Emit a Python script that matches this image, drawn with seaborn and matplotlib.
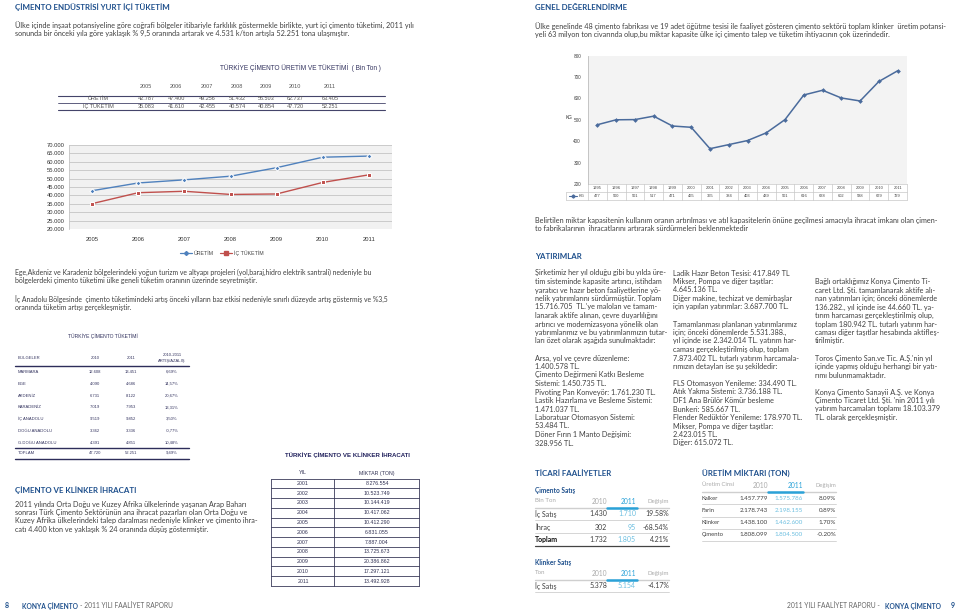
import matplotlib
matplotlib.use("Agg")
import matplotlib.pyplot as plt
import seaborn as sns
import pandas as pd
from matplotlib.lines import Line2D

# ---------------- data ----------------
years_a = [2005, 2006, 2007, 2008, 2009, 2010, 2011]
uretim = [42787, 47400, 49256, 51432, 56503, 62737, 63405]
ic_tuketim = [35083, 41610, 42455, 40574, 40854, 47720, 52251]

kg_years = list(range(1995, 2012))
kg_values = [477, 500, 501, 517, 471, 465, 365, 384, 403, 439, 501, 616, 638, 602, 588, 679, 729]

regions = ["MARMARA", "EGE", "AKDENİZ", "KARADENİZ", "İÇ ANADOLU", "DOĞU ANADOLU", "G.DOĞU ANADOLU"]
reg_2010 = [12608, 4090, 6731, 7019, 9519, 3362, 4391]
reg_2011 = [13451, 4686, 8122, 7953, 9852, 3336, 4851]
reg_change = ["6,69%", "14,57%", "20,67%", "13,31%", "3,50%", "-0,77%", "10,48%"]
reg_total = [47720, 52251, "9,49%"]

export_years = [2001, 2002, 2003, 2004, 2005, 2006, 2007, 2008, 2009, 2010, 2011]
export_tons = [8276554, 10523749, 10144419, 10417062, 10412290, 6831055, 7887004,
               13725673, 20386862, 17297121, 13492928]

cim_rows = ["İç Satış", "İhraç", "Toplam"]
cim_2010 = [1430, 302, 1732]
cim_2011 = [1710, 95, 1805]
cim_chg = ["19.58%", "-68.54%", "4.21%"]
kli_rows = ["İç Satış"]
kli_2010 = [5378]
kli_2011 = [5154]
kli_chg = ["-4.17%"]

prod_rows = ["Kalker", "Farin", "Klinker", "Çimento"]
prod_2010 = [1457779, 2178743, 1438100, 1808099]
prod_2011 = [1575786, 2198155, 1462600, 1804500]
prod_chg = ["8.09%", "0.89%", "1.70%", "-0.20%"]


def tr(n):
    return f"{n:,}".replace(",", ".")


# ---------------- style ----------------
sns.set_theme(style="white")
plt.rcParams["font.family"] = ["Lato", "DejaVu Sans"]

W, H = 960, 614
fig = plt.figure(figsize=(9.6, 6.14), dpi=100)
fig.patch.set_facecolor("white")

BLUE = "#1d4f8c"
TXT = "#404040"
NAVY = "#23235e"
TBL = "#555555"
CYAN = "#2aa2d8"
LCYAN = "#6cbfe0"
BODY = 5.2
HEAD = 5.7
RF = ["Liberation Sans", "DejaVu Sans"]


def T(x, y, s, size=BODY, color=TXT, weight="normal", ha="left", va="center", family=None, **kw):
    kws = dict(fontsize=size, color=color, fontweight=weight, ha=ha, va=va)
    if family:
        kws["family"] = family
    kws.update(kw)
    return fig.text(x / W, 1 - y / H, s, **kws)


def HL(x0, x1, y, color="#999999", lw=0.6):
    fig.add_artist(Line2D([x0 / W, x1 / W], [1 - y / H, 1 - y / H], color=color, lw=lw))


def VL(x, y0, y1, color="#999999", lw=0.6):
    fig.add_artist(Line2D([x / W, x / W], [1 - y0 / H, 1 - y1 / H], color=color, lw=lw))


def LINES(x, y0, lines, dy=8.3, **kw):
    for i, s in enumerate(lines):
        if s:
            T(x, y0 + i * dy, s, **kw)


# ---------------- left page text ----------------
T(15, 7.5, "ÇİMENTO ENDÜSTRİSİ YURT İÇİ TÜKETİM", size=HEAD, color=BLUE, weight="bold")
LINES(15, 25.5, ["Ülke içinde inşaat potansiyeline göre coğrafi bölgeler itibariyle farklılık göstermekle birlikte, yurt içi çimento tüketimi, 2011 yılı",
                 "sonunda bir önceki yıla göre yaklaşık % 9,5 oranında artarak ve 4.531 k/ton artışla 52.251 tona ulaşmıştır."], dy=8)

# production / consumption table
T(220, 68, "TÜRKİYE ÇİMENTO ÜRETİM VE TÜKETİMİ  ( Bin Ton )", size=4.7, color="#33335f", family=RF)
tx = [146, 176, 207, 237, 266, 295, 330]
for x, yv in zip(tx, years_a):
    T(x, 87, str(yv), size=4.0, color=TBL, ha="center", family=RF)
HL(58, 385, 95.5, color="#44446a", lw=0.8)
HL(58, 385, 102.5, color="#44446a", lw=0.6)
HL(58, 385, 110, color="#44446a", lw=0.8)
T(98, 99, "ÜRETİM", size=4.0, color=TBL, ha="center", family=RF)
T(98, 106.5, "İÇ TÜKETİM", size=4.0, color=TBL, ha="center", family=RF)
for x, a, b in zip(tx, uretim, ic_tuketim):
    T(x, 99, tr(a), size=4.0, color=TBL, ha="center", family=RF)
    T(x, 106.5, tr(b), size=4.0, color=TBL, ha="center", family=RF)

# left line chart
axL = fig.add_axes([69 / W, 1 - 229 / H, (392 - 69) / W, (229 - 145) / H])
dfL = pd.DataFrame({"Yıl": years_a * 2,
                    "Değer": uretim + ic_tuketim,
                    "Seri": ["ÜRETİM"] * 7 + ["İÇ TÜKETİM"] * 7})
sns.lineplot(data=dfL, x="Yıl", y="Değer", hue="Seri", style="Seri",
             palette={"ÜRETİM": "#4f81bd", "İÇ TÜKETİM": "#c0504d"},
             markers={"ÜRETİM": "D", "İÇ TÜKETİM": "s"},
             dashes=False, markersize=2.6, linewidth=1.0, ax=axL, legend=False)
axL.set_facecolor("#f1f1f1")
axL.set_xlim(2004.5, 2011.5)
axL.set_ylim(20000, 70000)
axL.set_yticks(range(20000, 70001, 5000))
axL.set_yticklabels([tr(v) for v in range(20000, 70001, 5000)], fontsize=4.2, color="#333333", family=RF)
axL.set_xticks(years_a)
axL.set_xticklabels([str(y) for y in years_a], fontsize=4.2, color="#333333", family=RF)
axL.tick_params(axis="both", length=0, pad=3)
axL.tick_params(axis="x", pad=6)
axL.grid(axis="y", color="#c4c4c4", lw=0.6)
axL.set_axisbelow(True)
for s in axL.spines.values():
    s.set_visible(False)
axL.spines["left"].set_visible(True)
axL.spines["left"].set_color("#c4c4c4")
axL.spines["left"].set_linewidth(0.6)
axL.set_xlabel("")
axL.set_ylabel("")
hL = [Line2D([], [], color="#4f81bd", marker="D", markersize=2, lw=0.9, label="ÜRETİM"),
      Line2D([], [], color="#c0504d", marker="s", markersize=2.4, lw=0.9, label="İÇ TÜKETİM")]
legL = fig.legend(handles=hL, loc="center", bbox_to_anchor=(222 / W, 1 - 253 / H), ncol=2,
                  frameon=False, handlelength=2.2, columnspacing=1.2, handletextpad=0.4,
                  prop={"family": RF, "size": 3.8})
for t in legL.get_texts():
    t.set_color("#444444")

LINES(15, 272.5, ["Ege,Akdeniz ve Karadeniz bölgelerindeki yoğun turizm ve altyapı projeleri (yol,baraj,hidro elektrik santrali) nedeniyle bu",
                  "bölgelerdeki çimento tüketimi ülke geneli tüketim oranının üzerinde seyretmiştir."], dy=8.3, size=4.95)
LINES(15, 299.5, ["İç Anadolu Bölgesinde  çimento tüketimindeki artış önceki yılların baz etkisi nedeniyle sınırlı düzeyde artış göstermiş ve %3,5",
                  "oranında tüketim artışı gerçekleşmiştir."], dy=8.3, size=4.95)

# regional table
T(103, 336, "TÜRKİYE ÇİMENTO TÜKETİMİ", size=3.6, color="#33335f", ha="center", family=RF)
T(18, 358, "BÖLGELER", size=3.0, color="#33335f", family=RF)
T(95, 358, "2010", size=3.0, color="#33335f", ha="center", family=RF)
T(131, 358, "2011", size=3.0, color="#33335f", ha="center", family=RF)
T(172, 355, "2010-2011", size=3.0, color="#33335f", ha="center", family=RF)
T(172, 361, "ARTIŞ/AZALIŞ", size=3.0, color="#33335f", ha="center", family=RF)
HL(15, 189, 366, color="#2d2d5a", lw=1.0)
ry = [372, 384, 396, 407.5, 419, 431, 443]
for y, r, a, b, c in zip(ry, regions, reg_2010, reg_2011, reg_change):
    T(18, y, r, size=3.0, color="#33335f", family=RF)
    T(95, y, tr(a), size=3.0, color="#33335f", ha="center", family=RF)
    T(131, y, tr(b), size=3.0, color="#33335f", ha="center", family=RF)
    T(172, y, c, size=3.0, color="#33335f", ha="center", family=RF)
HL(15, 189, 448, color="#2d2d5a", lw=1.0)
T(18, 453, "TOPLAM", size=3.0, color="#33335f", family=RF)
T(95, 453, tr(reg_total[0]), size=3.0, color="#33335f", ha="center", family=RF)
T(131, 453, tr(reg_total[1]), size=3.0, color="#33335f", ha="center", family=RF)
T(172, 453, reg_total[2], size=3.0, color="#33335f", ha="center", family=RF)
HL(15, 189, 459, color="#2d2d5a", lw=1.0)

T(15, 490, "ÇİMENTO VE KLİNKER İHRACATI", size=HEAD, color=BLUE, weight="bold")
LINES(15, 504, ["2011 yılında Orta Doğu ve Kuzey Afrika ülkelerinde yaşanan Arap Baharı",
                "sonrası Türk Çimento Sektörünün ana ihracat pazarları olan Orta Doğu ve",
                "Kuzey Afrika ülkelerindeki talep daralması nedeniyle klinker ve çimento ihra-",
                "catı 4.400 kton ve yaklaşık % 24 oranında düşüş göstermiştir."], dy=8.5)

# export table
T(347, 455, "TÜRKİYE ÇİMENTO VE KLİNKER İHRACATI", size=4.4, color=NAVY, weight="bold", ha="center", family=RF)
T(303, 473, "YIL", size=3.8, color="#333355", ha="center", family=RF)
T(377, 473, "MİKTAR (TON)", size=3.8, color="#333355", ha="center", family=RF)
top, bot = 478.5, 586
rh = (bot - top) / len(export_years)
for i in range(len(export_years) + 1):
    HL(271, 419, top + i * rh, color="#3a3a5a", lw=0.6)
VL(271, top, bot, color="#3a3a5a", lw=0.6)
VL(334, top, bot, color="#3a3a5a", lw=0.6)
VL(419, top, bot, color="#3a3a5a", lw=0.6)
for i, (yv, t) in enumerate(zip(export_years, export_tons)):
    yc = top + (i + 0.5) * rh
    T(303, yc, str(yv), size=3.8, color="#333355", ha="center", family=RF)
    T(377, yc, tr(t), size=3.8, color="#333355", ha="center", family=RF)

# footer
T(5, 606, "8", size=5.0, color=BLUE, weight="bold")
T(22, 606, "KONYA ÇİMENTO", size=4.8, color=BLUE, weight="bold")
T(80, 606, "- 2011 YILI FAALİYET RAPORU", size=4.8, color="#666666")
T(880, 606, "2011 YILI FAALİYET RAPORU -", size=4.8, color="#666666", ha="right")
T(941, 606, "KONYA ÇİMENTO", size=4.8, color=BLUE, weight="bold", ha="right")
T(955, 606, "9", size=5.0, color=BLUE, weight="bold", ha="right")

# ---------------- right page ----------------
T(535, 7.5, "GENEL DEĞERLENDİRME", size=HEAD, color=BLUE, weight="bold")
LINES(535, 26, ["Ülke genelinde 48 çimento fabrikası ve 19 adet öğütme tesisi ile faaliyet gösteren çimento sektörü toplam klinker  üretim potansi-",
                "yeli 63 milyon ton civarında olup,bu miktar kapasite ülke içi çimento talep ve tüketim ihtiyacının çok üzerindedir."], dy=8)

axR = fig.add_axes([588 / W, 1 - 184 / H, 319 / W, (184 - 55.6) / H])
dfR = pd.DataFrame({"Yıl": kg_years, "KG": kg_values})
sns.lineplot(data=dfR, x="Yıl", y="KG", color="#4a6b9c", marker="D", markersize=2.4,
             markeredgewidth=0, linewidth=1.1, ax=axR)
axR.set_facecolor("#f3f3f3")
axR.set_xlim(1994.5, 2011.5)
axR.set_ylim(200, 800)
axR.set_yticks(range(200, 801, 100))
axR.set_yticklabels([str(v) for v in range(200, 801, 100)], fontsize=3.4, color="#444444", family=RF)
axR.set_xticks([])
axR.tick_params(axis="y", length=0, pad=5)
for s in axR.spines.values():
    s.set_visible(False)
axR.spines["left"].set_visible(True)
axR.spines["left"].set_color("#bdbdbd")
axR.spines["left"].set_linewidth(0.6)
axR.set_xlabel("")
axR.set_ylabel("KG", fontsize=3.4, color="#333333", rotation=0, labelpad=4, family=RF)
axR.yaxis.set_label_coords(-0.06, 0.5)

# data table under the right chart
xt = axR.get_xaxis_transform()
cell_c = "#c8c8c8"
for yy in [0.0, -0.062, -0.125]:
    axR.plot([1994.5, 2011.5], [yy, yy], transform=xt, color=cell_c, lw=0.5, clip_on=False)
for i in range(len(kg_years) + 1):
    xv = 1994.5 + i
    axR.plot([xv, xv], [0.0, -0.125], transform=xt, color=cell_c, lw=0.5, clip_on=False)
axR.plot([-0.068, 0], [-0.062, -0.062], transform=axR.transAxes, color=cell_c, lw=0.5, clip_on=False)
axR.plot([-0.068, 0], [-0.125, -0.125], transform=axR.transAxes, color=cell_c, lw=0.5, clip_on=False)
axR.plot([-0.068, -0.068], [-0.062, -0.125], transform=axR.transAxes, color=cell_c, lw=0.5, clip_on=False)
for yv, v in zip(kg_years, kg_values):
    axR.text(yv, -0.031, str(yv), transform=xt, fontsize=2.9, color="#444444", ha="center", va="center", family=RF)
    axR.text(yv, -0.094, str(v), transform=xt, fontsize=2.9, color="#444444", ha="center", va="center", family=RF)
axR.plot([-0.060, -0.035], [-0.094, -0.094], transform=axR.transAxes, color="#4a6b9c", lw=0.8, clip_on=False)
axR.plot([-0.0475], [-0.094], transform=axR.transAxes, color="#4a6b9c", marker="D", markersize=1.6, clip_on=False)
axR.text(-0.030, -0.094, "KG", transform=axR.transAxes, fontsize=2.9, color="#444444", ha="left", va="center", family=RF)

LINES(535, 221, ["Belirtilen miktar kapasitenin kullanım oranın artırılması ve atıl kapasitelerin önüne geçilmesi amacıyla ihracat imkanı olan çimen-",
                 "to fabrikalarının  ihracatlarını artırarak sürdürmeleri beklenmektedir"], dy=8)
T(535, 256.5, "YATIRIMLAR", size=HEAD, color=BLUE, weight="bold")

col1 = ["Şirketimiz her yıl olduğu gibi bu yılda üre-",
        "tim sisteminde kapasite artırıcı, istihdam",
        "yaratıcı ve hazır beton faaliyetlerine yö-",
        "nelik yatırımlarını sürdürmüştür. Toplam",
        "15.716.705  TL.'ye malolan ve tamam-",
        "lanarak aktife alınan, çevre duyarlılığını",
        "artırıcı ve modernizasyona yönelik olan",
        "yatırımlarımız ve bu yatırımlarımızın tutar-",
        "ları özet olarak aşağıda sunulmaktadır:",
        "",
        "Arsa, yol ve çevre düzenleme:",
        "1.400.578 TL.",
        "Çimento Değirmeni Katkı Besleme",
        "Sistemi: 1.450.735 TL.",
        "Pivoting Pan Konveyör: 1.761.230 TL.",
        "Lastik Hazırlama ve Besleme Sistemi:",
        "1.471.037 TL.",
        "Laboratuar Otomasyon Sistemi:",
        "53.484 TL.",
        "Döner Fırın 1 Manto Değişimi:",
        "328.956 TL."]
col2 = ["Ladik Hazır Beton Tesisi: 417.849 TL",
        "Mikser, Pompa ve diğer taşıtlar:",
        "4.645.136 TL.",
        "Diğer makine, techizat ve demirbaşlar",
        "için yapılan yatırımlar: 3.687.700 TL.",
        "",
        "Tamamlanması planlanan yatırımlarımız",
        "için; önceki dönemlerde 5.531.388.,",
        "yıl içinde ise 2.342.014 TL. yatırım har-",
        "caması gerçekleştirilmiş olup, toplam",
        "7.873.402 TL. tutarlı yatırım harcamala-",
        "rımızın detayları ise şu şekildedir:",
        "",
        "FLS Otomasyon Yenileme: 334.490 TL.",
        "Atık Yakma Sistemi: 3.736.188 TL.",
        "DF1 Ana Brülör Kömür besleme",
        "Bunkeri: 585.667 TL.",
        "Flender Redüktör Yenileme: 178.970 TL.",
        "Mikser, Pompa ve diğer taşıtlar:",
        "2.423.015 TL.",
        "Diğer: 615.072 TL."]
col3 = ["Bağlı ortaklığımız Konya Çimento Ti-",
        "caret Ltd. Şti. tamamlanarak aktife alı-",
        "nan yatırımları için; önceki dönemlerde",
        "136.282., yıl içinde ise 44.660 TL. ya-",
        "tırım harcaması gerçekleştirilmiş olup,",
        "toplam 180.942 TL. tutarlı yatırım har-",
        "caması diğer taşıtlar hesabında aktifleş-",
        "tirilmiştir.",
        "",
        "Toros Çimento San.ve Tic. A.Ş.'nin yıl",
        "içinde yapmış olduğu herhangi bir yatı-",
        "rımı bulunmamaktadır.",
        "",
        "Konya Çimento Sanayii A.Ş. ve Konya",
        "Çimento Ticaret Ltd. Şti. 'nin 2011 yılı",
        "yatırım harcamaları toplamı 18.103.379",
        "TL. olarak gerçekleşmiştir."]
LINES(535, 273, col1, dy=8.5)
LINES(673, 273, col2, dy=8.5)
LINES(815, 281.5, col3, dy=8.5)

# ticari faaliyetler
T(535, 474, "TİCARİ FAALİYETLER", size=HEAD, color=BLUE, weight="bold")
T(535, 491, "Çimento Satış", size=4.7, color=BLUE, weight="bold")
T(535, 501, "Bin Ton", size=4.4, color="#aaaaaa")
T(607, 501, "2010", size=4.8, color="#aaaaaa", ha="right")
T(636, 501, "2011", size=4.8, color=CYAN, ha="right")
T(669, 501, "Değişim", size=4.4, color="#aaaaaa", ha="right")
HL(535, 669, 508, color="#cfcfcf", lw=1.0)
HL(607, 637, 507.5, color=CYAN, lw=1.8)
sy = [514, 527, 539.5]
for i, (y, r, a, b, c) in enumerate(zip(sy, cim_rows, cim_2010, cim_2011, cim_chg)):
    isbold = r == "Toplam"
    T(535, y, r, size=5.0, color="#111111" if isbold else TXT, weight="bold" if isbold else "normal")
    T(607, y, tr(a), size=5.0, ha="right")
    T(636, y, tr(b), size=5.0, color=LCYAN, ha="right")
    T(669, y, c, size=5.0, ha="right")
    HL(535, 669, y + 6.2, color="#444444" if isbold else "#cfcfcf", lw=0.9 if isbold else 0.6)

T(535, 563, "Klinker Satış", size=4.7, color=BLUE, weight="bold")
T(535, 573, "Ton", size=4.4, color="#aaaaaa")
T(607, 573, "2010", size=4.8, color="#aaaaaa", ha="right")
T(636, 573, "2011", size=4.8, color=CYAN, ha="right")
T(669, 573, "Değişim", size=4.4, color="#aaaaaa", ha="right")
HL(535, 669, 580, color="#cfcfcf", lw=1.0)
HL(607, 637, 579.5, color=CYAN, lw=1.8)
for y, r, a, b, c in zip([586], kli_rows, kli_2010, kli_2011, kli_chg):
    T(535, y, r, size=5.0)
    T(607, y, tr(a), size=5.0, ha="right")
    T(636, y, tr(b), size=5.0, color=LCYAN, ha="right")
    T(669, y, c, size=5.0, ha="right")
    HL(535, 669, y + 6.2, color="#cfcfcf", lw=0.6)

# üretim miktarı
T(702, 474, "ÜRETİM MİKTARI (TON)", size=HEAD, color=BLUE, weight="bold")
T(702, 485, "Üretim Cinsi", size=4.2, color="#aaaaaa")
T(768, 485, "2010", size=4.8, color="#aaaaaa", ha="right")
T(803, 485, "2011", size=4.8, color=CYAN, ha="right")
T(836, 485, "Değişim", size=4.2, color="#aaaaaa", ha="right")
HL(702, 836, 492, color="#cfcfcf", lw=1.0)
HL(768, 803, 491.5, color=CYAN, lw=1.8)
for i, (r, a, b, c) in enumerate(zip(prod_rows, prod_2010, prod_2011, prod_chg)):
    y = 498 + i * 12.3
    T(702, y, r, size=4.2)
    T(768, y, tr(a), size=4.5, ha="right")
    T(803, y, tr(b), size=4.5, color=LCYAN, ha="right")
    T(836, y, c, size=4.5, ha="right")
    HL(702, 836, y + 6.2, color="#cfcfcf", lw=0.6)

fig.savefig("out.png", dpi=100, facecolor="white")
